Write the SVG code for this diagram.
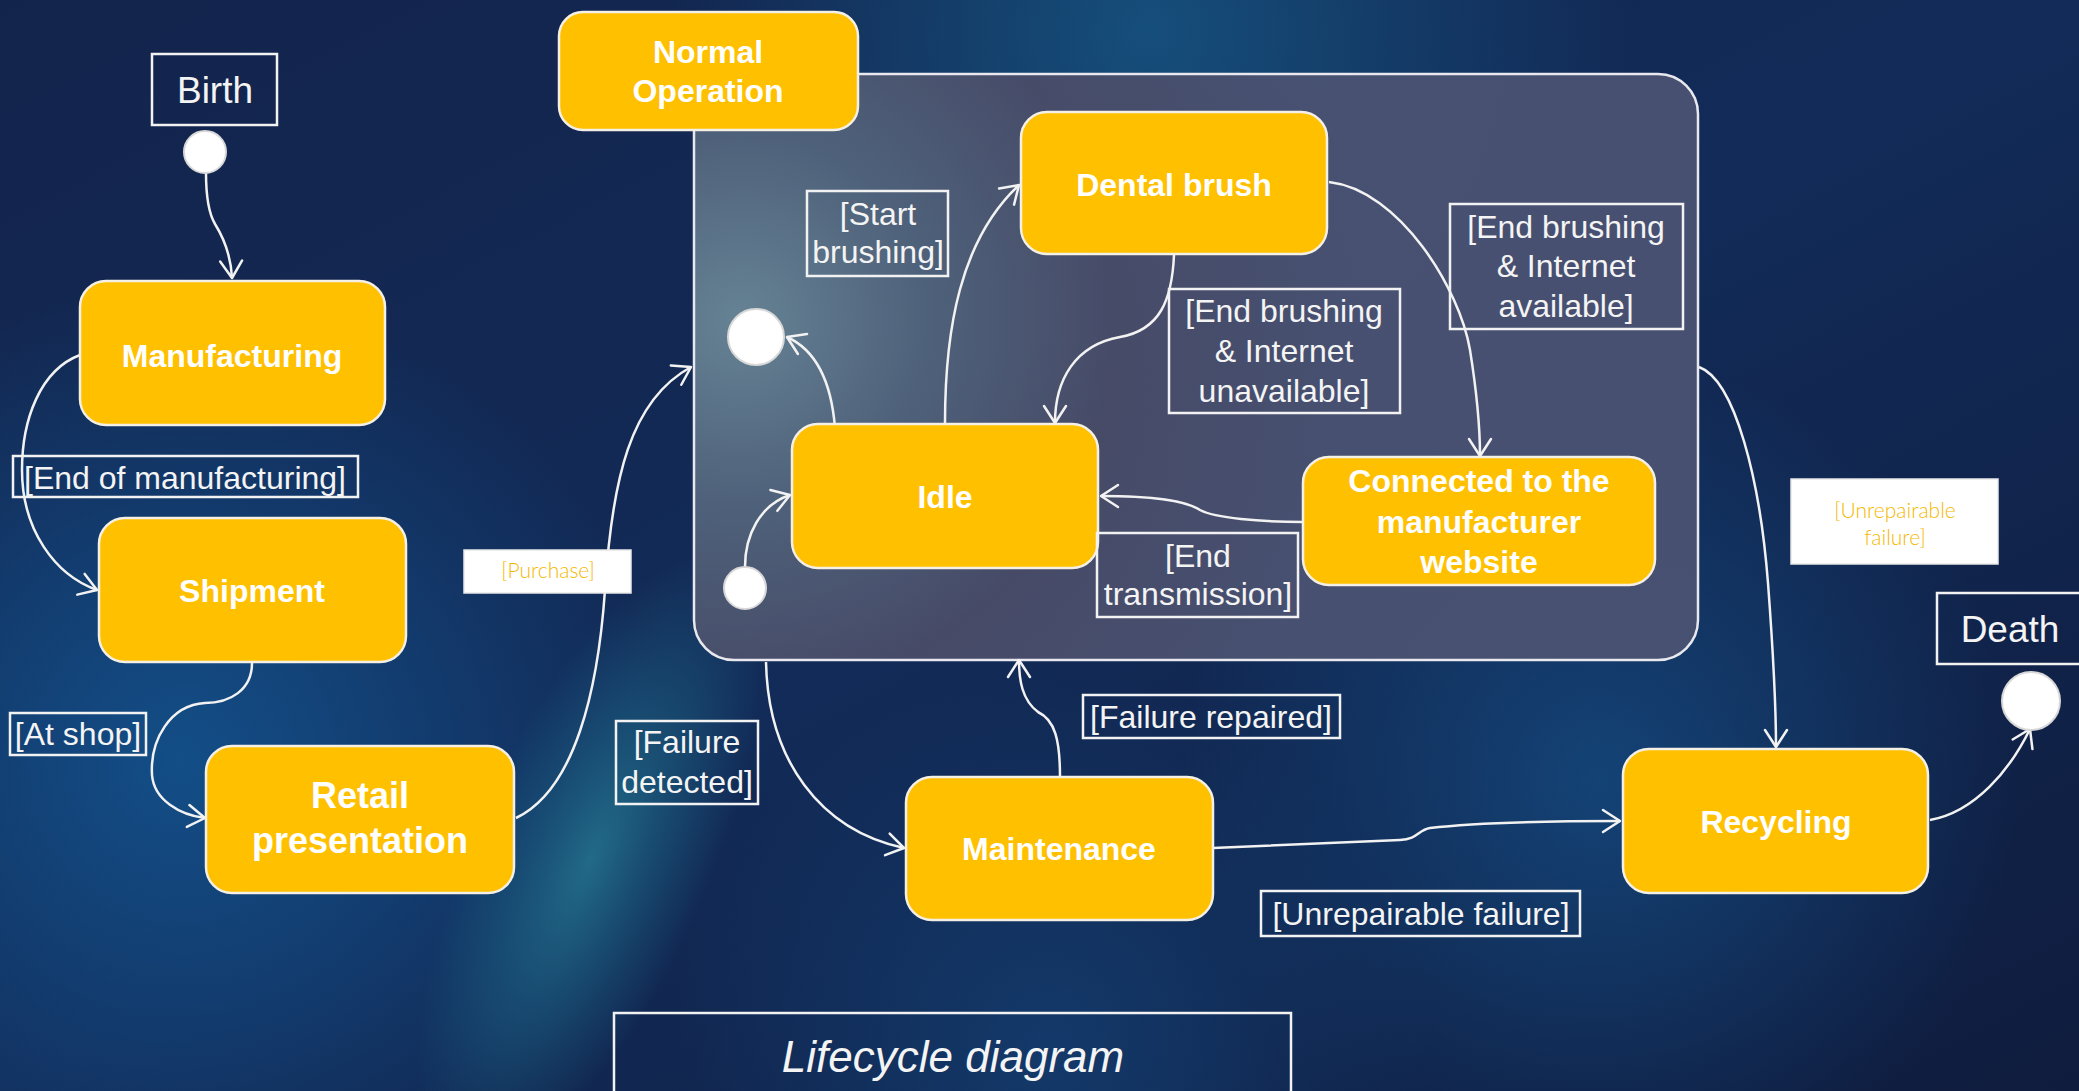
<svg xmlns="http://www.w3.org/2000/svg" width="2079" height="1091" viewBox="0 0 2079 1091">
  <defs>
    <linearGradient id="bgBase" x1="0" y1="0" x2="1" y2="1">
      <stop offset="0" stop-color="#13244c"/>
      <stop offset="0.5" stop-color="#122b58"/>
      <stop offset="1" stop-color="#0f1c3e"/>
    </linearGradient>
    <radialGradient id="glowTop" cx="1150" cy="30" r="480" gradientUnits="userSpaceOnUse">
      <stop offset="0" stop-color="#16527f" stop-opacity="0.9"/>
      <stop offset="1" stop-color="#16527f" stop-opacity="0"/>
    </radialGradient>
    <radialGradient id="glowTeal">
      <stop offset="0" stop-color="#24718c" stop-opacity="0.9"/>
      <stop offset="0.55" stop-color="#1d6585" stop-opacity="0.45"/>
      <stop offset="1" stop-color="#1d6585" stop-opacity="0"/>
    </radialGradient>
    <radialGradient id="glowLeft" cx="180" cy="760" r="480" gradientUnits="userSpaceOnUse">
      <stop offset="0" stop-color="#13508a" stop-opacity="0.95"/>
      <stop offset="1" stop-color="#13508a" stop-opacity="0"/>
    </radialGradient>
    <radialGradient id="glowRight" cx="1600" cy="780" r="420" gradientUnits="userSpaceOnUse">
      <stop offset="0" stop-color="#14467a" stop-opacity="0.9"/>
      <stop offset="1" stop-color="#14467a" stop-opacity="0"/>
    </radialGradient>
    <radialGradient id="glowBottom" cx="1050" cy="1050" r="380" gradientUnits="userSpaceOnUse">
      <stop offset="0" stop-color="#143f72" stop-opacity="0.8"/>
      <stop offset="1" stop-color="#143f72" stop-opacity="0"/>
    </radialGradient>
    <radialGradient id="panelFill" cx="740" cy="320" r="620" gradientUnits="userSpaceOnUse">
      <stop offset="0" stop-color="#6a8798"/>
      <stop offset="0.3" stop-color="#52647c"/>
      <stop offset="0.6" stop-color="#494c68"/>
      <stop offset="1" stop-color="#4a5272"/>
    </radialGradient>
    <marker id="arrow" markerWidth="40" markerHeight="40" refX="0" refY="0" viewBox="-20 -20 40 40" orient="auto" markerUnits="userSpaceOnUse">
      <path d="M-17,-11 L0,0 L-17,11" fill="none" stroke="#f2f2f2" stroke-width="2.5" stroke-linecap="round" stroke-linejoin="round"/>
    </marker>
    <style>
      .node { fill: #ffc000; stroke: #f4f0e6; stroke-width: 2.5; }
      .ntext { font-family: "Liberation Sans", Arial, sans-serif; font-weight: bold; font-size: 32px; fill: #ffffff; text-anchor: middle; }
      .lbox { fill: none; stroke: #f2f2f2; stroke-width: 2.5; }
      .ltext { font-family: "Liberation Sans", Arial, sans-serif; font-size: 32px; fill: #f4f4f4; text-anchor: middle; }
      .wbox { fill: #ffffff; stroke: #e8e8e8; stroke-width: 1.5; }
      .ytext { font-family: Lato, "Open Sans", sans-serif; font-weight: 300; font-size: 21px; fill: #f5b800; text-anchor: middle; }
      .edge { fill: none; stroke: #f2f2f2; stroke-width: 2.5; marker-end: url(#arrow); }
      .pseudo { fill: #ffffff; stroke: #d8d8d8; stroke-width: 2; }
    </style>
  </defs>

  <!-- backdrop -->
  <rect x="0" y="0" width="2079" height="1091" fill="url(#bgBase)"/>
  <rect x="0" y="0" width="2079" height="1091" fill="url(#glowLeft)"/>
  <rect x="0" y="0" width="2079" height="1091" fill="url(#glowTop)"/>
  <rect x="0" y="0" width="2079" height="1091" fill="url(#glowRight)"/>
  <rect x="0" y="0" width="2079" height="1091" fill="url(#glowBottom)"/>
  <ellipse cx="590" cy="860" rx="120" ry="330" transform="rotate(24 590 860)" fill="url(#glowTeal)"/>

  <!-- composite state: Normal Operation region -->
  <g id="normal-operation-region">
    <rect x="694" y="74" width="1004" height="586" rx="40" fill="url(#panelFill)" fill-opacity="0.95" stroke="#e8e8ee" stroke-width="2.5"/>
  </g>

  <!-- transitions -->
  <g id="connectors">
    <path class="edge" d="M206,173 C206,195 208,212 215,224 C225,240 231,258 232,278"/>
    <path class="edge" d="M80,355 C40,370 22,420 22,470 C22,530 55,575 97,590"/>
    <path class="edge" d="M252,663 C252,690 230,703 205,703 C170,705 150,740 152,775 C154,800 180,815 205,818"/>
    <path class="edge" d="M516,818 C575,790 598,690 605,590 C612,480 630,400 691,367"/>
    <path class="edge" d="M835,428 C832,390 820,352 787,337"/>
    <path class="edge" d="M745,567 C745,535 760,505 790,495"/>
    <path class="edge" d="M945,423 C945,330 960,240 1019,185"/>
    <path class="edge" d="M1174,255 C1172,300 1160,330 1120,337 C1075,345 1055,380 1055,423"/>
    <path class="edge" d="M1329,182 C1400,190 1460,290 1470,350 C1478,400 1480,430 1480,456"/>
    <path class="edge" d="M1303,522 C1260,522 1215,518 1200,510 C1185,500 1150,496 1101,496"/>
    <path class="edge" d="M766,662 C768,760 820,830 904,848"/>
    <path class="edge" d="M1060,777 C1060,740 1055,720 1038,712 C1022,700 1019,680 1019,660"/>
    <path class="edge" d="M1213,848 L1400,840 C1418,839 1418,830 1430,828 C1480,822 1560,821 1620,821"/>
    <path class="edge" d="M1699,367 C1735,380 1760,480 1768,583 C1773,650 1776,700 1776,747"/>
    <path class="edge" d="M1930,820 C1975,812 2010,770 2030,729"/>
  </g>

  <!-- pseudo states -->
  <g id="birth-start"><circle class="pseudo" cx="205" cy="152" r="21"/></g>
  <g id="inner-final"><circle class="pseudo" cx="756" cy="337" r="28"/></g>
  <g id="inner-start"><circle class="pseudo" cx="745" cy="588" r="21"/></g>
  <g id="death-end"><circle class="pseudo" cx="2031" cy="701" r="29"/></g>

  <!-- states -->
  <g id="manufacturing">
    <rect class="node" x="80" y="281" width="305" height="144" rx="26"/>
    <text class="ntext" x="232" y="367">Manufacturing</text>
  </g>
  <g id="shipment">
    <rect class="node" x="99" y="518" width="307" height="144" rx="26"/>
    <text class="ntext" x="252" y="602">Shipment</text>
  </g>
  <g id="retail-presentation">
    <rect class="node" x="206" y="746" width="308" height="147" rx="26"/>
    <text class="ntext" x="360" y="808" style="font-size:36px">Retail</text>
    <text class="ntext" x="360" y="853" style="font-size:36px">presentation</text>
  </g>
  <g id="normal-operation">
    <rect class="node" x="559" y="12" width="299" height="118" rx="24"/>
    <text class="ntext" x="708" y="63">Normal</text>
    <text class="ntext" x="708" y="102">Operation</text>
  </g>
  <g id="dental-brush">
    <rect class="node" x="1021" y="112" width="306" height="142" rx="26"/>
    <text class="ntext" x="1174" y="196">Dental brush</text>
  </g>
  <g id="idle">
    <rect class="node" x="792" y="424" width="306" height="144" rx="26"/>
    <text class="ntext" x="945" y="508">Idle</text>
  </g>
  <g id="connected">
    <rect class="node" x="1303" y="457" width="352" height="128" rx="26"/>
    <text class="ntext" x="1479" y="492">Connected to the</text>
    <text class="ntext" x="1479" y="533">manufacturer</text>
    <text class="ntext" x="1479" y="573">website</text>
  </g>
  <g id="maintenance">
    <rect class="node" x="906" y="777" width="307" height="143" rx="26"/>
    <text class="ntext" x="1059" y="860">Maintenance</text>
  </g>
  <g id="recycling">
    <rect class="node" x="1623" y="749" width="305" height="144" rx="26"/>
    <text class="ntext" x="1776" y="833">Recycling</text>
  </g>

  <!-- lifecycle end labels -->
  <g id="birth-label">
    <rect class="lbox" x="152" y="54" width="125" height="71"/>
    <text class="ltext" x="215" y="103" style="font-size:37px">Birth</text>
  </g>
  <g id="death-label">
    <rect class="lbox" x="1937" y="593" width="150" height="71"/>
    <text class="ltext" x="2010" y="642" style="font-size:37px">Death</text>
  </g>

  <!-- guard labels -->
  <g id="guard-end-manufacturing">
    <rect class="lbox" x="13" y="456" width="345" height="41"/>
    <text class="ltext" x="185" y="489">[End of manufacturing]</text>
  </g>
  <g id="guard-at-shop">
    <rect class="lbox" x="10" y="713" width="136" height="42"/>
    <text class="ltext" x="78" y="745">[At shop]</text>
  </g>
  <g id="guard-purchase">
    <rect class="wbox" x="464" y="550" width="167" height="43"/>
    <text class="ytext" x="548" y="578">[Purchase]</text>
  </g>
  <g id="guard-start-brushing">
    <rect class="lbox" x="807" y="191" width="141" height="85"/>
    <text class="ltext" x="878" y="225">[Start</text>
    <text class="ltext" x="878" y="263">brushing]</text>
  </g>
  <g id="guard-internet-unavailable">
    <rect class="lbox" x="1169" y="289" width="231" height="124"/>
    <text class="ltext" x="1284" y="322">[End brushing</text>
    <text class="ltext" x="1284" y="362">&amp; Internet</text>
    <text class="ltext" x="1284" y="402">unavailable]</text>
  </g>
  <g id="guard-internet-available">
    <rect class="lbox" x="1450" y="204" width="233" height="125"/>
    <text class="ltext" x="1566" y="238">[End brushing</text>
    <text class="ltext" x="1566" y="277">&amp; Internet</text>
    <text class="ltext" x="1566" y="317">available]</text>
  </g>
  <g id="guard-end-transmission">
    <rect class="lbox" x="1097" y="533" width="201" height="84"/>
    <text class="ltext" x="1198" y="567">[End</text>
    <text class="ltext" x="1198" y="605">transmission]</text>
  </g>
  <g id="guard-failure-detected">
    <rect class="lbox" x="616" y="721" width="142" height="83"/>
    <text class="ltext" x="687" y="753">[Failure</text>
    <text class="ltext" x="687" y="793">detected]</text>
  </g>
  <g id="guard-failure-repaired">
    <rect class="lbox" x="1083" y="695" width="257" height="43"/>
    <text class="ltext" x="1211" y="728">[Failure repaired]</text>
  </g>
  <g id="guard-unrepairable-maintenance">
    <rect class="lbox" x="1261" y="891" width="319" height="45"/>
    <text class="ltext" x="1421" y="925">[Unrepairable failure]</text>
  </g>
  <g id="guard-unrepairable-operation">
    <rect class="wbox" x="1791" y="479" width="207" height="85"/>
    <text class="ytext" x="1895" y="518">[Unrepairable</text>
    <text class="ytext" x="1895" y="545">failure]</text>
  </g>

  <!-- caption -->
  <g id="caption">
    <rect class="lbox" x="614" y="1013" width="677" height="100"/>
    <text x="953" y="1072" style="font-family:'Liberation Sans', Arial, sans-serif; font-style:italic; font-size:44px; fill:#f4f4f4; text-anchor:middle">Lifecycle diagram</text>
  </g>
</svg>
